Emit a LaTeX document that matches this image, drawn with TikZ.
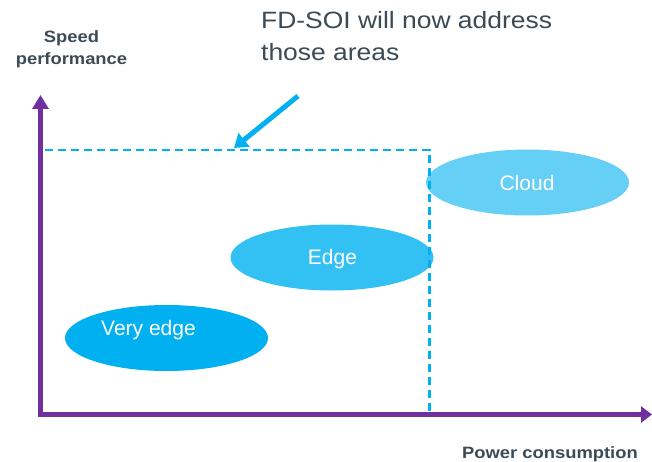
\documentclass[tikz,border=0pt]{standalone}
\usepackage{fontspec}
\setmainfont{Liberation Sans}
\newfontfamily\widefont{Liberation Sans}[FakeStretch=1.12]
\usetikzlibrary{arrows.meta,shapes.geometric}
\definecolor{axispurple}{HTML}{7030A0}
\definecolor{fdblue}{HTML}{00B0F0}
\definecolor{midblue}{HTML}{33C0F3}
\definecolor{lightblue}{HTML}{66CFF5}
\definecolor{slate}{HTML}{3B4A55}
\begin{document}
\begin{tikzpicture}[x=1pt, y=-1pt,
  axis/.style={draw=axispurple, line width=5pt, line join=miter, {Triangle[length=14pt,width=16pt]}-{Triangle[length=11pt,width=16pt]}},
  limit/.style={draw=fdblue, line width=2.5pt, dash pattern=on 8pt off 5pt},
  pointer/.style={draw=fdblue, line width=5pt, -{Triangle[length=13pt,width=17pt]}},
  blob/.style={ellipse, inner sep=0pt, minimum width=203pt, minimum height=66pt},
  blobtext/.style={text=white, font=\fontsize{21}{25}\selectfont, inner sep=0pt},
  axislabel/.style={text=slate, font=\widefont\bfseries\fontsize{16.4}{22}\selectfont, inner sep=0pt}]
\useasboundingbox (0,0) rectangle (652,462);
\node[blob, fill=fdblue] (veryedge) at (166.5,338){};
\node[blob, fill=midblue] (edge) at (332,257.5){};
\node[blob, fill=lightblue] (cloud) at (527.5,182.5){};
\node[blobtext] (tveryedge) at (148.5,330){Very edge};
\node[blobtext] (tedge) at (332.5,259){Edge};
\node[blobtext] (tcloud) at (527,183){Cloud};
\coordinate (ytop) at (40.5,95);
\coordinate (origin) at (40.5,414.5);
\coordinate (xend) at (652,414.5);
\draw[axis] (ytop) -- (origin) -- (xend);
\coordinate (dleft) at (45,150);
\coordinate (dcorner) at (429.5,150);
\coordinate (dbottom) at (429.5,412);
\draw[limit] (dleft) -- (dcorner) -- (dbottom);
\coordinate (pstart) at (298,96);
\coordinate (ptip) at (234,148);
\draw[pointer] (pstart) -- (ptip);
\node[axislabel, align=center, anchor=base] (ylabel) at (71.5,65){Speed\\performance};
\node[axislabel, anchor=base west] (xlabel) at (462,458.5){Power consumption};
\node[text=slate, font=\widefont\fontsize{23.6}{32}\selectfont, inner sep=0pt, align=left, anchor=base west] (note) at (261,61){FD-SOI will now address\\those areas};
\end{tikzpicture}
\end{document}
